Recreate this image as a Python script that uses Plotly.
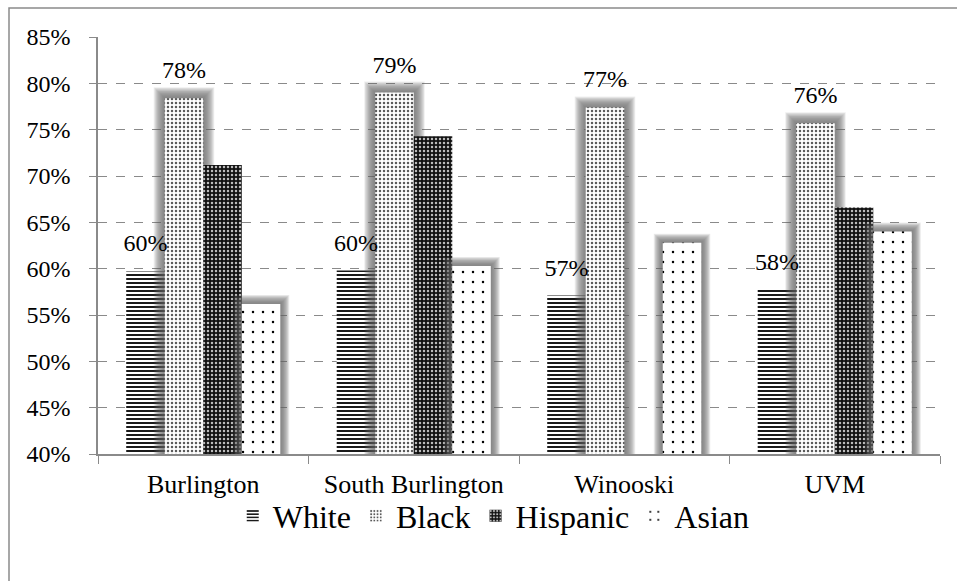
import plotly.graph_objects as go

# ---- data ----
categories = ["Burlington", "South Burlington", "Winooski", "UVM"]
series_names = ["White", "Black", "Hispanic", "Asian"]
white = [59.7, 59.8, 57.1, 57.7]
black = [78.4, 79.0, 77.4, 75.7]
hispanic = [71.2, 74.3, None, 66.6]
asian = [56.2, 60.3, 62.8, 64.0]
series_values = [white, black, hispanic, asian]
labelled_series = ["White", "Black"]

# ---- styling ----
FONT = "Liberation Serif"
GRAY = "#8a8a8a"
Y_MIN, Y_MAX = 40, 85
BAR_W = 0.183
GROUP_START = -0.366
PX_X = 1 / 210.5          # category units per pixel
PX_Y = (Y_MAX - Y_MIN) / 417.0  # percent per pixel
LABEL_PAD_PX = 12

patterns = {
    "White": dict(shape="-", size=4, solidity=0.45, fgcolor="#000000", bgcolor="#ffffff", fillmode="replace"),
    "Black": dict(shape=".", size=4, solidity=0.30, fgcolor="#5a5a5a", bgcolor="#ffffff", fillmode="replace"),
    "Hispanic": dict(shape=".", size=4, solidity=0.30, fgcolor="#bdbdbd", bgcolor="#111111", fillmode="replace"),
    "Asian": dict(shape=".", size=10, solidity=0.05, fgcolor="#000000", bgcolor="#ffffff", fillmode="replace"),
}
glow_px = {"White": 0, "Black": 11, "Hispanic": 0, "Asian": 9}
GLOW_STEPS = 12

fig = go.Figure()

for i, (name, vals) in enumerate(zip(series_names, series_values)):
    off = GROUP_START + i * BAR_W
    g = glow_px[name]
    if g:
        for k in range(GLOW_STEPS, 0, -1):
            gp = g * (k / GLOW_STEPS) ** 0.8
            fig.add_trace(go.Bar(
                x=categories,
                y=[None if v is None else v + gp * PX_Y for v in vals],
                offset=off - gp * PX_X,
                width=BAR_W + 2 * gp * PX_X,
                marker=dict(color="rgba(100,100,100,0.10)", line=dict(width=0)),
                showlegend=False, hoverinfo="skip",
            ))
    fig.add_trace(go.Bar(
        x=categories, y=vals, name=name,
        offset=off, width=BAR_W,
        marker=dict(color=patterns[name]["bgcolor"], pattern=patterns[name], line=dict(width=0)),
    ))

# data labels drawn last so they sit on top
for i, (name, vals) in enumerate(zip(series_names, series_values)):
    if name not in labelled_series:
        continue
    off = GROUP_START + i * BAR_W
    fig.add_trace(go.Bar(
        x=categories,
        y=[None if v is None else v + LABEL_PAD_PX * PX_Y for v in vals],
        customdata=vals,
        offset=off, width=BAR_W,
        marker=dict(color="rgba(0,0,0,0)", line=dict(width=0)),
        texttemplate="%{customdata:.0f}%", textposition="outside",
        constraintext="none", cliponaxis=False,
        textfont=dict(family=FONT, size=24, color="#000000"),
        showlegend=False, hoverinfo="skip",
    ))

fig.update_layout(
    width=957, height=581,
    margin=dict(l=98, r=17, t=37, b=127),
    barmode="overlay",
    paper_bgcolor="#ffffff", plot_bgcolor="#ffffff",
    font=dict(family=FONT, color="#000000", size=24),
    legend=dict(orientation="h", x=0.47, xanchor="center", y=(454 - 516) / 417, yanchor="middle",
                bgcolor="rgba(0,0,0,0)",
                font=dict(family=FONT, size=32), itemwidth=30, traceorder="normal"),
    xaxis=dict(type="category", range=[-0.5, 3.5], tickson="boundaries", ticks="outside",
               ticklen=8, tickcolor=GRAY, showline=True, linecolor=GRAY, linewidth=1.5,
               showgrid=False, tickfont=dict(family=FONT, size=26), ticklabelstandoff=6),
    yaxis=dict(range=[Y_MIN, Y_MAX], dtick=5, ticksuffix="%", showgrid=True, griddash="dash",
               gridcolor=GRAY, gridwidth=1, showline=True, linecolor=GRAY, linewidth=1.5,
               ticks="outside", ticklen=7, tickcolor=GRAY, zeroline=False,
               tickfont=dict(family=FONT, size=24), ticklabelstandoff=14),
    shapes=[dict(type="rect", xref="paper", yref="paper",
                 x0=(9 - 98) / 842, x1=(975 - 98) / 842,
                 y0=(454 - 600) / 417, y1=1 + (37 - 8) / 417,
                 line=dict(color=GRAY, width=1.5), layer="below")],
)

fig.write_html("out.html")
